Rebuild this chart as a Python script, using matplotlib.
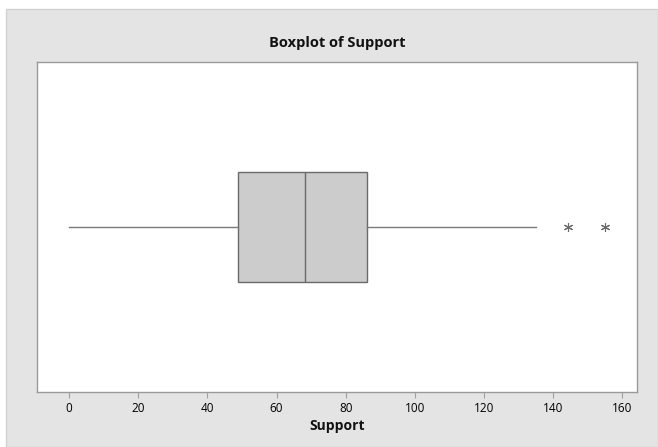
import matplotlib.pyplot as plt
from matplotlib.patches import Rectangle

# --- Data ---
whisker_lo = 0.0
q1 = 49.0
median = 68.1
q3 = 86.1
whisker_hi = 135.0
outliers = [144.3, 155.1]
x_ticks = [0, 20, 40, 60, 80, 100, 120, 140, 160]

plt.rcParams['font.family'] = ['Open Sans', 'DejaVu Sans']

W, H = 658, 447
fig = plt.figure(figsize=(W / 100, H / 100), dpi=100, facecolor='white')

# gray panel behind everything
fig.patches.append(Rectangle((6 / W, 0), 1 - 6 / W, 1 - 9 / H, transform=fig.transFigure,
                             facecolor='#e4e4e4', edgecolor='#d2d2d2', linewidth=1.0, zorder=-1))

ax = fig.add_axes([37 / W, 1 - 392 / H, 600 / W, 330 / H])
ax.set_facecolor('white')

stats = [{
    'whislo': whisker_lo, 'q1': q1, 'med': median, 'q3': q3, 'whishi': whisker_hi,
    'fliers': outliers, 'label': '',
}]
ax.bxp(stats, positions=[0], widths=1.0, vert=False, patch_artist=True,
       showcaps=False,
       boxprops=dict(facecolor='#cccccc', edgecolor='#6a6a6a', linewidth=1.0),
       medianprops=dict(color='#6a6a6a', linewidth=1.0),
       whiskerprops=dict(color='#7a7a7a', linewidth=1.0),
       flierprops=dict(marker=(6, 2, 0), markersize=6.5, markeredgecolor='#6a6a6a',
                       markeredgewidth=0.8, linestyle='none'))

ax.set_ylim(-1.5, 1.5)
ax.set_xlim(-9.3, 164.3)
ax.set_yticks([])
ax.set_xticks(x_ticks)
ax.set_xticklabels([str(t) for t in x_ticks], fontsize=8.5, color='black')
ax.tick_params(axis='x', direction='out', length=4, color='#a0a0a0', pad=3)
for s in ax.spines.values():
    s.set_color('#9a9a9a')
    s.set_linewidth(1.0)

ax.set_xlabel('Support', fontsize=10, fontweight='bold', color='#111111', labelpad=3)
fig.text((37 + 300) / W, 1 - 43 / H, 'Boxplot of Support', ha='center', va='center',
         fontsize=10.5, fontweight='bold', color='#111111')

fig.savefig('out.png', dpi=100, facecolor=fig.get_facecolor())
